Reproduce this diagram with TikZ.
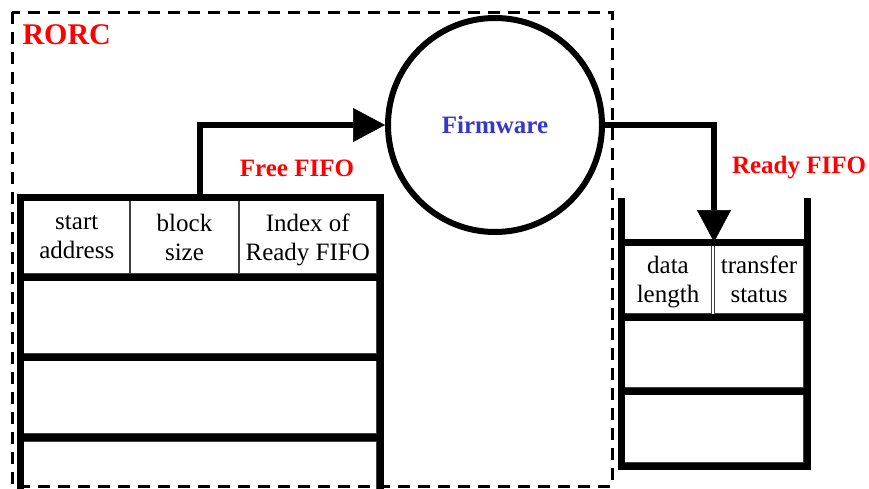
\documentclass[tikz,border=0pt]{standalone}
\usepackage{fontspec}
\setmainfont{Liberation Serif}
\usetikzlibrary{arrows.meta}
\definecolor{rorcred}{RGB}{255,0,0}
\definecolor{fwblue}{RGB}{55,55,200}

\begin{document}
\begin{tikzpicture}[x=1pt,y=-1pt,
   wall/.style={line width=7pt},
   cell/.style={draw=black!75, line width=1.2pt, inner sep=0pt, align=center, text depth=0pt, font=\fontsize{25}{29}\selectfont},
   tag/.style={font=\fontsize{25}{30}\selectfont\bfseries, text=rorcred},
   flow/.style={line width=6pt, -{Triangle[length=32pt, width=34pt, line width=0.5pt]}}]
\useasboundingbox (0,0) rectangle (869,488);
\draw[line width=3pt, dash pattern=on 12pt off 8pt] (12,12) rectangle (612,486);
\node[anchor=west, font=\fontsize{30}{36}\selectfont\bfseries, text=rorcred] (rorc) at (19,35) {RORC};
\node[circle, draw, line width=6pt, minimum size=214pt, inner sep=0pt, font=\fontsize{25}{30}\selectfont\bfseries, text=fwblue] (fw) at (495,125) {Firmware};
\node[cell, minimum width=106.5pt, minimum height=73pt] (start) at (76.75,237) {start\\address};
\node[cell, minimum width=109pt, minimum height=73pt] (block) at (184.5,237) {block\\size};
\node[cell, minimum width=137.5pt, minimum height=73pt] (index) at (307.75,237) {Index of\\Ready FIFO};
\node[cell, minimum width=353pt, minimum height=73pt] (free2) at (200,317) {};
\node[cell, minimum width=353pt, minimum height=73pt] (free3) at (200,397) {};
\node[cell, minimum width=353pt, minimum height=60pt] (free4) at (200,471) {};
\node[cell, minimum width=87pt, minimum height=68pt] (length) at (668,279.5) {data\\length};
\node[cell, minimum width=89pt, minimum height=68pt] (status) at (759,279.5) {transfer\\status};
\node[cell, minimum width=179pt, minimum height=67pt] (ready2) at (714,354) {};
\node[cell, minimum width=179pt, minimum height=68pt] (ready3) at (714,428.5) {};
\draw[wall] (20,492) |- (380,197) -- (380,492);
\foreach \y in {277,357,437} \draw[wall] (20,\y) -- (380,\y);
\draw[wall] (621,198) |- (807,466) -- (807,198);
\foreach \y in {242,317,391} \draw[wall] (621,\y) -- (807,\y);
\coordinate (free) at (200,197);
\coordinate (ready) at (714,242);
\draw[flow] (free) |- (fw.west);
\draw[flow] (fw.east) -| (ready);
\node[tag] (freetag) at (297,168) {Free FIFO};
\node[tag] (readytag) at (799,168) {Ready FIFO};
\end{tikzpicture}
\end{document}
